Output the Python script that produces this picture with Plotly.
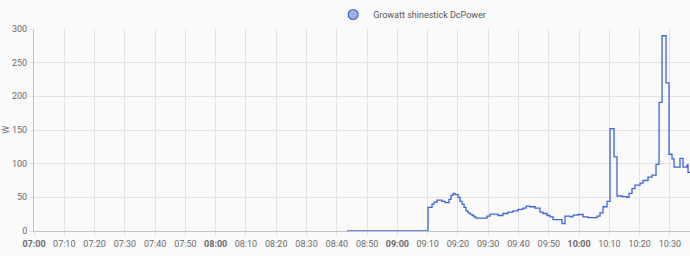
import plotly.graph_objects as go

# Step series: timestamps (start of each level) and power values (W)
times = [
    "08:43:22", "09:10:07", "09:11:26", "09:12:06", "09:13:05", "09:14:44", "09:15:44",
    "09:17:03", "09:17:43", "09:18:23", "09:19:02", "09:20:02", "09:20:41", "09:21:21",
    "09:22:01", "09:22:40", "09:23:20", "09:24:00", "09:24:39", "09:25:19", "09:25:58",
    "09:29:36", "09:30:36", "09:33:14", "09:34:53", "09:36:32", "09:38:11", "09:39:50",
    "09:41:29", "09:42:29", "09:43:48", "09:45:27", "09:47:06", "09:48:06", "09:49:25",
    "09:50:25", "09:51:24", "09:54:22", "09:55:22", "09:57:01", "09:58:00", "09:59:40",
    "10:01:19", "10:02:58", "10:05:56", "10:06:55", "10:07:55", "10:09:14", "10:10:13",
    "10:11:33", "10:12:32", "10:14:11", "10:15:50", "10:16:30", "10:17:29", "10:18:29",
    "10:20:08", "10:21:07", "10:22:46", "10:24:06", "10:25:25", "10:26:25", "10:27:24",
    "10:28:43", "10:29:43", "10:30:42", "10:31:22", "10:33:20", "10:34:20", "10:35:39",
    "10:35:59", "10:36:38",
]
power = [
    0, 35, 40, 43, 46, 44, 42,
    47, 53, 56, 54, 50, 44, 40,
    35, 30, 27, 25, 23, 21, 19,
    22, 25, 23, 26, 28, 30, 32,
    34, 37, 36, 34, 28, 26, 23,
    21, 17, 11, 22, 21, 23.5, 24.5,
    21, 20, 22, 27, 36, 44, 152,
    110, 52, 51, 50, 56, 63, 68,
    71, 75, 80, 83, 99, 191, 290,
    220, 114, 107, 95, 108, 95, 98,
    87, 87,
]
series_name = "Growatt shinestick DcPower"
y_ticks = [0, 50, 100, 150, 200, 250, 300]
x_tick_times = ["07:00", "07:10", "07:20", "07:30", "07:40", "07:50",
                "08:00", "08:10", "08:20", "08:30", "08:40", "08:50",
                "09:00", "09:10", "09:20", "09:30", "09:40", "09:50",
                "10:00", "10:10", "10:20", "10:30"]

day = "2023-05-01 "
xs = [day + t for t in times]
tickvals = [day + t + ":00" for t in x_tick_times]
ticktext = [("<b>%s</b>" % t) if t.endswith(":00") else t for t in x_tick_times]

LINE = "#3f64d8"
GRID = "#e3e3e3"
TXT = "#6b6b6b"

fig = go.Figure()
fig.add_trace(go.Scatter(
    x=xs, y=power, mode="lines", line=dict(color=LINE, width=1.3, shape="hv"),
    showlegend=False, hoverinfo="skip"))
fig.add_trace(go.Scatter(
    x=[None], y=[None], mode="markers", name=series_name,
    marker=dict(symbol="circle", size=10, color="rgba(63,100,216,0.5)",
                line=dict(color=LINE, width=1.2))))

fig.update_layout(
    width=690, height=256,
    margin=dict(l=34, r=0, t=27, b=25),
    paper_bgcolor="#fafafa", plot_bgcolor="#fafafa",
    font=dict(family="Roboto", size=9, color=TXT),
    legend=dict(orientation="h", x=0.456, xanchor="left", y=1.0, yanchor="bottom",
                yref="paper", font=dict(size=9, color="#555555"),
                bgcolor="rgba(0,0,0,0)", itemwidth=30),
    xaxis=dict(type="date", range=[day + "07:00:00", day + "10:36:38"],
               tickvals=tickvals, ticktext=ticktext, tickangle=0,
               showgrid=True, gridcolor=GRID, gridwidth=1,
               ticks="outside", ticklen=4, tickcolor=GRID,
               showline=True, linecolor="#c4c4c4", linewidth=1,
               zeroline=False, tickfont=dict(size=9, color=TXT)),
    yaxis=dict(range=[0, 300], tickvals=y_ticks,
               showgrid=True, gridcolor=GRID, gridwidth=1,
               ticks="outside", ticklen=4, tickcolor=GRID,
               showline=True, linecolor="#c4c4c4", linewidth=1,
               zeroline=False, tickfont=dict(size=9, color=TXT)),
    annotations=[dict(text="W", xref="paper", yref="paper", x=-0.043, y=0.5,
                      xanchor="center", yanchor="middle", textangle=-90,
                      showarrow=False, font=dict(size=9, color=TXT))],
)

fig.write_html("out.html")
